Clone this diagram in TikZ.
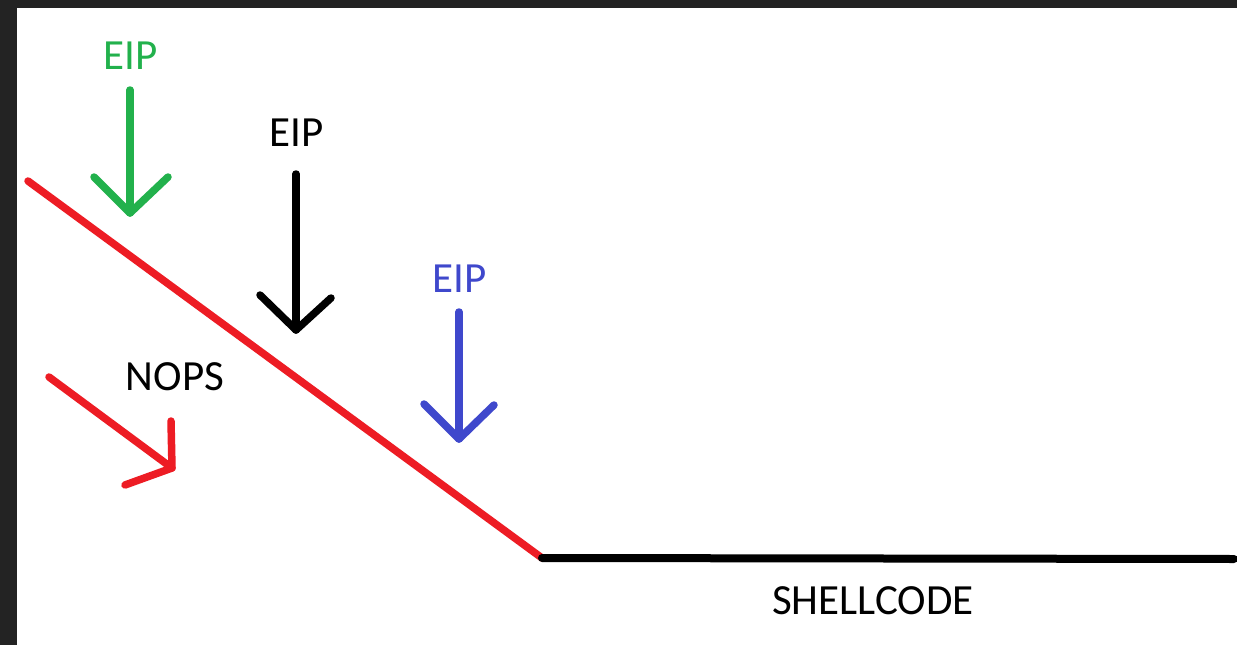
\documentclass[tikz,border=0pt]{standalone}
\usepackage{fontspec}
\setmainfont{Carlito}
\definecolor{frame}{HTML}{232323}
\definecolor{pgreen}{HTML}{22B14C}
\definecolor{pblue}{HTML}{3F48CC}
\definecolor{pred}{HTML}{ED1C24}
\begin{document}
\begin{tikzpicture}[x=1pt,y=-1pt,
  stroke/.style={line width=7.5pt,line cap=round,line join=round},
  lbl/.style={inner sep=0pt,font=\fontsize{43}{50}\selectfont}]
\useasboundingbox (0,0) rectangle (1237,645);
% window frame and white canvas
\fill[frame] (0,0) rectangle (1237,645);
\fill[white] (17,8) rectangle (1237,645);

% slope of nops down to the shellcode floor
\coordinate (slopetop) at (28,181);
\coordinate (slopebot) at (542,558);
\coordinate (floorend) at (1234,559);
\draw[stroke,pred] (slopetop) -- (slopebot);
\draw[stroke,black,line width=8pt] (slopebot) -- (floorend);
\node[lbl] (shell) at (873,601) {SHELLCODE};

% green EIP arrow
\node[lbl,text=pgreen] (eipg) at (131,56) {EIP};
\coordinate (g1) at (130,90);
\coordinate (g2) at (130,213);
\draw[stroke,pgreen] (g1) -- (g2);
\draw[stroke,pgreen] (94,177) -- (g2) -- (168,177);

% black EIP arrow
\node[lbl] (eipk) at (297,133) {EIP};
\coordinate (k1) at (296,174);
\coordinate (k2) at (296,330);
\draw[stroke,black] (k1) -- (k2);
\draw[stroke,black] (260,295) -- (k2) -- (331,298);

% blue EIP arrow
\node[lbl,text=pblue] (eipb) at (460,279) {EIP};
\coordinate (b1) at (459,312);
\coordinate (b2) at (459,439);
\draw[stroke,pblue] (b1) -- (b2);
\draw[stroke,pblue] (424,404) -- (b2) -- (494,405);

% red NOPS arrow
\node[lbl] (nops) at (175,377) {NOPS};
\coordinate (r1) at (49,377);
\coordinate (r2) at (172,468);
\draw[stroke,pred] (r1) -- (r2);
\draw[stroke,pred] (171,421) -- (r2) -- (125,485);
\end{tikzpicture}
\end{document}
